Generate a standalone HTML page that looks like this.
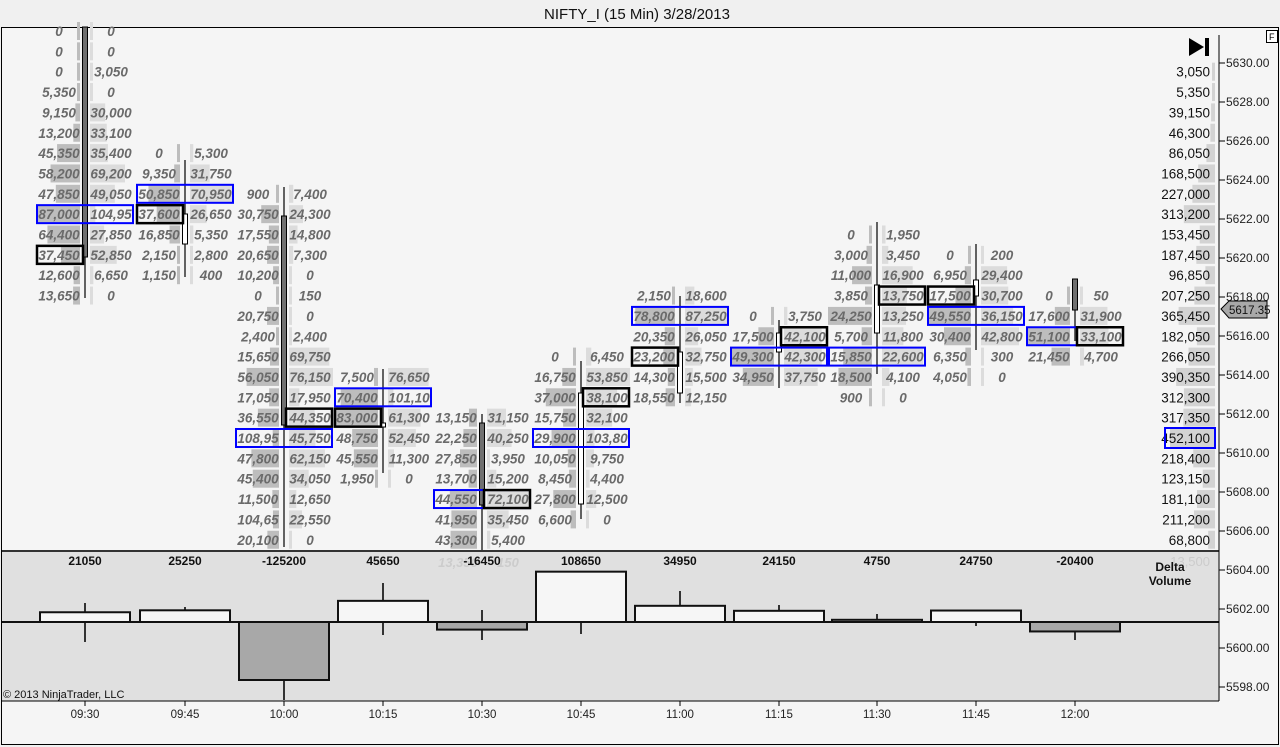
<!DOCTYPE html>
<html><head><meta charset="utf-8"><style>
body{margin:0;background:#f0f0f0;width:1280px;height:747px;overflow:hidden}
svg{display:block}
</style></head><body>
<svg id="s" width="1280" height="747" xmlns="http://www.w3.org/2000/svg" font-family="Liberation Sans, sans-serif">
<rect x="0" y="0" width="1280" height="747" fill="#f0f0f0"/>
<text x="637" y="19" font-size="15" text-anchor="middle" fill="#111">NIFTY_I (15 Min)  3/28/2013</text>
<rect x="1.5" y="27.5" width="1277" height="717" fill="#f5f5f5" stroke="#000"/>
<rect x="2" y="551" width="1217" height="150" fill="#e0e0e0"/>
<g id="g"></g>
</svg>
<script>
var g=document.getElementById('g'),h='';
function Y(r){return 31+r*20.35;}
var cols=[
[85,0,[["0","0"],["0","0"],["0","3,050"],["5,350","0"],["9,150","30,000"],["13,200","33,100"],["45,350","35,400"],["58,200","69,200"],["47,850","49,050"],["87,000","104,95","B"],["64,400","27,850"],["37,450","52,850","k"],["12,600","6,650"],["13,650","0"]],[27,298],[27,257],1],
[185,6,[["0","5,300"],["9,350","31,750"],["50,850","70,950","B"],["37,600","26,650","k"],["16,850","5,350"],["2,150","2,800"],["1,150","400"]],[160,277],[214,244],0],
[284,8,[["900","7,400"],["30,750","24,300"],["17,550","14,800"],["20,650","7,300"],["10,200","0"],["0","150"],["20,750","0"],["2,400","2,400"],["15,650","69,750"],["56,050","76,150"],["17,050","17,950"],["36,550","44,350","K"],["108,95","45,750","B"],["47,800","62,150"],["45,400","34,050"],["11,500","12,650"],["104,65","22,550"],["20,100","0"]],[187,547],[216,425],1],
[383,17,[["7,500","76,650"],["70,400","101,10","B"],["83,000","61,300","k"],["48,750","52,450"],["45,550","11,300"],["1,950","0"]],[369,473],[423,427],0],
[482,19,[["13,150","31,150"],["22,250","40,250"],["27,850","3,950"],["13,700","15,200"],["44,550","72,100","BK"],["41,950","35,450"],["43,300","5,400"]],[414,580],[423,505],1],
[581,16,[["0","6,450"],["16,750","53,850"],["37,000","38,100","K"],["15,750","32,100"],["29,900","103,80","B"],["10,050","9,750"],["8,450","4,400"],["27,800","12,500"],["6,600","0"]],[361,519],[393,504],0],
[680,13,[["2,150","18,600"],["78,800","87,250","B"],["20,350","26,050"],["23,200","32,750","k"],["14,300","15,500"],["18,550","12,150"]],[296,403],[352,393],0],
[779,14,[["0","3,750"],["17,500","42,100","K"],["49,300","42,300","B"],["34,950","37,750"]],[320,388],[333,352],0],
[877,10,[["0","1,950"],["3,000","3,450"],["11,000","16,900"],["3,850","13,750","K"],["24,250","13,250"],["5,700","11,800"],["15,850","22,600","B"],["18,500","4,100"],["900","0"]],[222,374],[285,333],0],
[976,11,[["0","200"],["6,950","29,400"],["17,500","30,700","k"],["49,550","36,150","B"],["30,400","42,800"],["6,350","300"],["4,050","0"]],[244,350],[280,296],0],
[1075,13,[["0","50"],["17,600","31,900"],["51,100","33,100","BK"],["21,450","4,700"]],[279,341],[279,310],1]
];
function n(s){return parseFloat(s.replace(/,/g,''))||0;}
cols.forEach(function(c){
 var x=c[0],mx=1;c[2].forEach(function(p){mx=Math.max(mx,n(p[0]),n(p[1]));});
 c[2].forEach(function(p,i){
  var y=Y(c[1]+i);
  var wb=Math.max(3,44*n(p[0])/mx),wa=Math.max(3,44*n(p[1])/mx);
  h+='<rect x="'+(x-5-wb)+'" y="'+(y-9)+'" width="'+wb+'" height="18" fill="#bdbdbd"/>';
  h+='<rect x="'+(x+5)+'" y="'+(y-9)+'" width="'+wa+'" height="18" fill="#dcdcdc"/>';
 });
});
cols.forEach(function(c){
 var x=c[0];
 h+='<line x1="'+x+'" y1="'+c[3][0]+'" x2="'+x+'" y2="'+c[3][1]+'" stroke="#000" stroke-width="1.2"/>';
 h+='<rect x="'+(x-2.5)+'" y="'+c[4][0]+'" width="5" height="'+(c[4][1]-c[4][0])+'" fill="'+(c[5]?'#707070':'#fff')+'" stroke="#000" stroke-width="1"/>';
});
cols.forEach(function(c){
 var x=c[0];
 c[2].forEach(function(p,i){
  var y=Y(c[1]+i),f=p[2]||'';
  h+='<text x="'+(x-26)+'" y="'+(y+5)+'" font-size="13.5" font-style="italic" font-weight="bold" fill="#6a6a6a" text-anchor="middle">'+p[0]+'</text>';
  h+='<text x="'+(x+26)+'" y="'+(y+5)+'" font-size="13.5" font-style="italic" font-weight="bold" fill="#6a6a6a" text-anchor="middle">'+p[1]+'</text>';
  if(f.indexOf('B')>=0)h+='<rect x="'+(x-48)+'" y="'+(y-9)+'" width="'+96+'" height="18" fill="none" stroke="#00f" stroke-width="2"/>';
  if(f.indexOf('k')>=0)h+='<rect x="'+(x-48)+'" y="'+(y-9)+'" width="46" height="18" fill="none" stroke="#000" stroke-width="2.5"/>';
  if(f.indexOf('K')>=0)h+='<rect x="'+(x+2)+'" y="'+(y-9)+'" width="46" height="18" fill="none" stroke="#000" stroke-width="2.5"/>';
 });
});
var pr=["3,050","5,350","39,150","46,300","86,050","168,500","227,000","313,200","153,450","187,450","96,850","207,250","365,450","182,050","266,050","390,350","312,300","317,350","452,100","218,400","123,150","181,100","211,200","68,800"];
pr.forEach(function(v,i){var y=Y(2+i),w=Math.max(3,45*n(v)/452100);
 h+='<rect x="'+(1215-w)+'" y="'+(y-9)+'" width="'+w+'" height="18" fill="#d3d3d3"/>';
 h+='<text x="1210" y="'+(y+5)+'" font-size="13.5" fill="#111" text-anchor="end">'+v+'</text>';
 if(v=="452,100")h+='<rect x="1165" y="'+(y-10)+'" width="50" height="20" fill="none" stroke="#00f" stroke-width="2"/>';
});
h+='<rect x="2" y="551" width="1217" height="150" fill="#e0e0e0"/>';
h+='<line x1="2" y1="551" x2="1219" y2="551" stroke="#333" stroke-width="2"/>';
h+='<text x="1210" y="566" font-size="13" fill="#ccc" text-anchor="end">13,500</text>';
h+='<text x="458" y="567" font-size="13" font-style="italic" font-weight="bold" fill="#ccc" text-anchor="middle">13,350</text><text x="508" y="567" font-size="13" font-style="italic" font-weight="bold" fill="#ccc" text-anchor="middle">150</text>';
var dv=[21050,25250,-125200,45650,-16450,108650,34950,24150,4750,24750,-20400];
var wk=[[603,642],[607,622],[622,700],[583,635],[610,640],[571,634],[591,622],[605,622],[614,622],[610,626],[622,640]];
dv.forEach(function(d,i){var x=cols[i][0],hgt=d*58/125200,top=d>0?622-hgt:622,hh=Math.abs(hgt);
 h+='<line x1="'+x+'" y1="'+wk[i][0]+'" x2="'+x+'" y2="'+wk[i][1]+'" stroke="#333" stroke-width="2"/>';
 h+='<rect x="'+(x-45)+'" y="'+top+'" width="90" height="'+hh+'" fill="'+(d>0?'#f6f6f6':'#a8a8a8')+'" stroke="#111" stroke-width="2"/>';
 h+='<text x="'+x+'" y="565" font-size="12" font-weight="bold" fill="#111" text-anchor="middle">'+d+'</text>';
 var t=["09:30","09:45","10:00","10:15","10:30","10:45","11:00","11:15","11:30","11:45","12:00"][i];
 h+='<line x1="'+x+'" y1="701" x2="'+x+'" y2="706" stroke="#000"/><text x="'+x+'" y="718" font-size="11.5" fill="#222" text-anchor="middle">'+t+'</text>';
});
h+='<line x1="2" y1="622" x2="1219" y2="622" stroke="#111" stroke-width="2"/>';
h+='<text x="1170" y="571" font-size="12" font-weight="bold" fill="#111" text-anchor="middle">Delta</text><text x="1170" y="585" font-size="12" font-weight="bold" fill="#111" text-anchor="middle">Volume</text>';
h+='<text x="3" y="698" font-size="11" fill="#111">© 2013 NinjaTrader, LLC</text>';
h+='<line x1="2" y1="701" x2="1219" y2="701" stroke="#000"/>';
h+='<line x1="1219" y1="35" x2="1219" y2="701" stroke="#000"/>';
for(var k=0;k<17;k++){var y=63+k*39;h+='<line x1="1219" y1="'+y+'" x2="1225" y2="'+y+'" stroke="#000"/><text x="1226" y="'+(y+4)+'" font-size="12" fill="#222">'+(5630-2*k)+'.00</text>';}
h+='<polygon points="1221,309 1229,301 1267,301 1267,318 1229,318" fill="#a8a8a8" stroke="#000"/><text x="1229" y="314" font-size="11.5" fill="#111">5617.35</text>';
h+='<polygon points="1189,38 1189,56 1204,47" fill="#000"/><rect x="1205" y="38" width="4" height="18" fill="#000"/>';
h+='<rect x="1266.5" y="30.5" width="11" height="12" fill="#fff" stroke="#000"/><text x="1269" y="40" font-size="9" fill="#000">F</text>';
g.innerHTML=h;
</script>
</body></html>
